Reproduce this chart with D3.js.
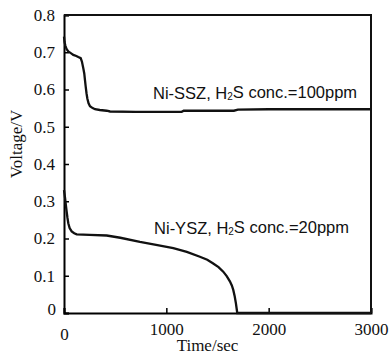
<!DOCTYPE html>
<html>
<head>
<meta charset="utf-8">
<script src="https://cdn.jsdelivr.net/npm/d3@7"></script>
<style>
  body { margin: 0; background: #fff; }
  svg text { fill: #111; }
</style>
</head>
<body>
<figure id="chart" style="margin:0"></figure>
<script>
// Ni-SSZ, 100 ppm H2S (time in sec, voltage in V)
const sszTime = [0, 5, 13, 26, 42, 70, 91, 120, 140, 163, 175, 182, 190, 198, 205, 212, 220, 228, 240, 254, 280, 303, 350, 417, 450, 700, 1150, 1170, 1660, 1700, 2000, 3000];
const sszVolt = [0.742, 0.728, 0.718, 0.708, 0.702, 0.697, 0.693, 0.690, 0.687, 0.684, 0.675, 0.666, 0.655, 0.643, 0.625, 0.608, 0.590, 0.576, 0.563, 0.555, 0.550, 0.547, 0.545, 0.543, 0.541, 0.540, 0.540, 0.543, 0.543, 0.546, 0.547, 0.547];

// Ni-YSZ, 20 ppm H2S
const yszTime = [0, 10, 18, 26, 34, 42, 55, 75, 100, 124, 250, 417, 550, 742, 900, 1068, 1200, 1328, 1400, 1458, 1510, 1556, 1590, 1621, 1640, 1654, 1668, 1680, 1688, 1693, 1800, 2000, 2500, 3000];
const yszVolt = [0.330, 0.310, 0.290, 0.272, 0.255, 0.241, 0.228, 0.219, 0.214, 0.211, 0.210, 0.208, 0.202, 0.191, 0.183, 0.174, 0.164, 0.151, 0.143, 0.133, 0.123, 0.111, 0.099, 0.085, 0.074, 0.062, 0.045, 0.026, 0.010, 0, 0, 0, 0, 0];

const xTicks = [0, 1000, 2000, 3000];
const yTicks = [0, 0.1, 0.2, 0.3, 0.4, 0.5, 0.6, 0.7, 0.8];

const labels = [
  { t: 870, v: 0.575, main: 'Ni-SSZ, H', sub: '2', rest: 'S conc.=100ppm' },
  { t: 880, v: 0.213, main: 'Ni-YSZ, H', sub: '2', rest: 'S conc.=20ppm' }
];

const width = 390, height = 354;
const margin = { top: 15, right: 19, bottom: 41, left: 64 };
const innerW = width - margin.left - margin.right;
const innerH = height - margin.top - margin.bottom;

const svg = d3.select('figure#chart')
  .append('svg')
  .attr('width', width)
  .attr('height', height)
  .append('g')
  .attr('transform', 'translate(' + margin.left + ',' + margin.top + ')');

const x = d3.scaleLinear().domain([0, 3000]).range([0, innerW]);
const y = d3.scaleLinear().domain([0, 0.8]).range([innerH, 0]);

const serif = '"Liberation Serif", "Times New Roman", serif';

// axes: inward ticks
const xAxis = svg.append('g')
  .attr('font-family', null)
  .call(d3.axisBottom(x).tickValues(xTicks).tickSize(-5).tickPadding(10).tickFormat(d3.format('d')));
xAxis.attr('transform', 'translate(0,' + innerH + ')')
  .attr('font-family', serif).attr('font-size', 17);

const yAxis = svg.append('g')
  .call(d3.axisLeft(y).tickValues(yTicks).tickSize(-5).tickPadding(9)
    .tickFormat(d => d === 0 ? '0' : d3.format('.1f')(d)));
yAxis.attr('font-family', serif).attr('font-size', 17);
yAxis.selectAll('.tick').filter(d => d === 0).select('text').attr('dy', '0.1em').attr('x', -8);
xAxis.selectAll('.tick').filter(d => d === 0).select('text').attr('dy', '1.0em');

svg.selectAll('.domain').attr('stroke-width', 2);
svg.selectAll('.tick line').attr('stroke-width', 1.5);

// frame top and right
svg.append('path')
  .attr('d', d3.line()([[0, 0], [innerW, 0], [innerW, innerH]]))
  .attr('fill', 'none')
  .attr('stroke', '#111')
  .attr('stroke-width', 2);

const line = d3.line()
  .x(d => x(d[0]))
  .y(d => y(d[1]));

svg.append('path')
  .datum(d3.zip(sszTime, sszVolt))
  .attr('d', line)
  .attr('fill', 'none')
  .attr('stroke', '#111')
  .attr('stroke-width', 2.3);

svg.append('path')
  .datum(d3.zip(yszTime, yszVolt))
  .attr('d', line)
  .attr('fill', 'none')
  .attr('stroke', '#111')
  .attr('stroke-width', 2.3);

labels.forEach(l => {
  const t = svg.append('text')
    .attr('x', x(l.t))
    .attr('y', y(l.v))
    .style('font-family', '"Liberation Sans", Arial, sans-serif')
    .style('font-size', '16.5px');
  t.append('tspan').text(l.main);
  t.append('tspan').text(l.sub).style('font-size', '10px').attr('dy', '0.1em');
  t.append('tspan').text(l.rest).attr('dy', '-0.1em');
});

// axis titles
svg.append('text')
  .attr('x', innerW / 2 - 10)
  .attr('y', innerH + 38)
  .attr('text-anchor', 'middle')
  .style('font-family', serif)
  .style('font-size', '17px')
  .text('Time/sec');

svg.append('text')
  .attr('transform', 'translate(' + (-42) + ',' + (innerH / 2 - 20) + ') rotate(-90)')
  .attr('text-anchor', 'middle')
  .style('font-family', serif)
  .style('font-size', '17px')
  .text('Voltage/V');
</script>
</body>
</html>
